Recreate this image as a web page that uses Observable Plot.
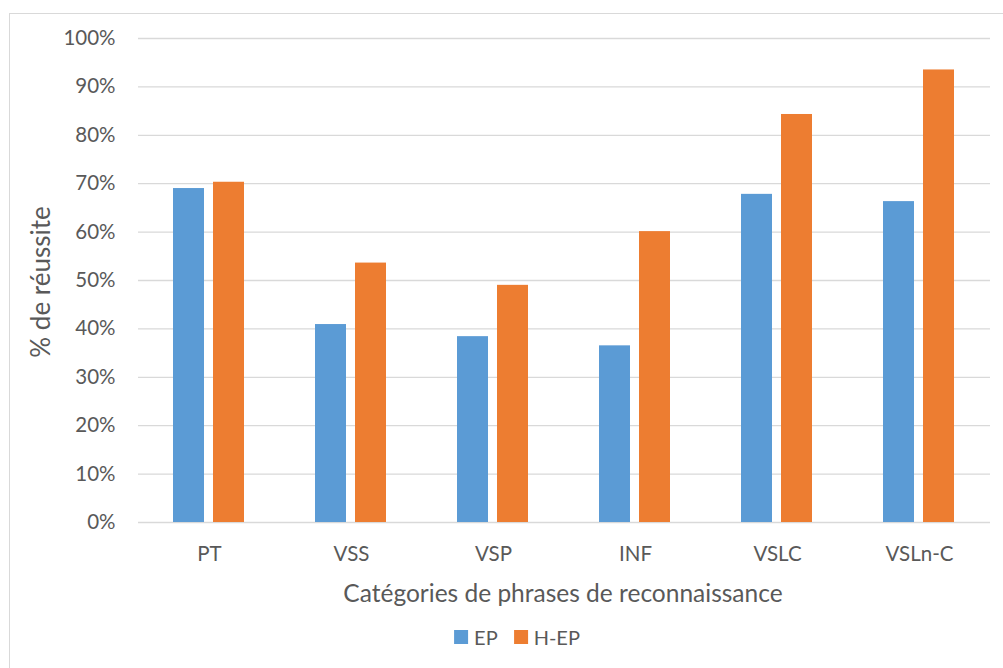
<!DOCTYPE html>
<html>
<head>
<meta charset="utf-8">
<script src="https://cdn.jsdelivr.net/npm/d3@7"></script>
<script src="https://cdn.jsdelivr.net/npm/@observablehq/plot@0.6"></script>
<style>
  html, body { margin: 0; padding: 0; background: #fff; }
  #wrap { position: relative; width: 1003px; height: 668px; overflow: hidden; background: #fff; font-family: Lato, "Open Sans", sans-serif; color: #595959; }
  #frame { position: absolute; left: 9px; top: 13px; width: 1200px; height: 900px; border: 1.5px solid #d9d9d9; box-sizing: border-box; }
  #chart { position: absolute; left: 0; top: 0; }
  #ylabel { position: absolute; left: 40px; top: 282px; transform: translate(-50%, -50%) rotate(-90deg); font-size: 26px; white-space: nowrap; line-height: 1; }
  #xtitle { position: absolute; left: 563px; top: 593px; transform: translate(-50%, -50%); font-size: 24.5px; white-space: nowrap; line-height: 1; }
  #legend { position: absolute; left: 517px; top: 637px; transform: translate(-50%, -50%); display: flex; align-items: center; font-size: 20px; line-height: 1; white-space: nowrap; }
  .item { display: flex; align-items: center; margin: 0 8px; }
  .sw { width: 14px; height: 14px; margin-right: 6px; }
</style>
</head>
<body>
<div id="wrap">
  <div id="frame"></div>
  <div id="chart"></div>
  <div id="ylabel">% de réussite</div>
  <div id="xtitle">Catégories de phrases de reconnaissance</div>
  <div id="legend"></div>
</div>
<script>
const categories = ["PT", "VSS", "VSP", "INF", "VSLC", "VSLn-C"];
const series = ["EP", "H-EP"];
const epValues = [0.690, 0.409, 0.384, 0.365, 0.678, 0.663];
const hepValues = [0.703, 0.536, 0.490, 0.601, 0.843, 0.935];
const seriesColors = ["#5B9BD5", "#ED7D31"];
const yTicks = [0, 0.1, 0.2, 0.3, 0.4, 0.5, 0.6, 0.7, 0.8, 0.9, 1.0];

const rows = categories.flatMap((c, i) => [
  {cat: c, series: series[0], value: epValues[i]},
  {cat: c, series: series[1], value: hepValues[i]}
]);

const chart = Plot.plot({
  width: 1003,
  height: 610,
  marginLeft: 137,
  marginRight: 13,
  marginTop: 38,
  marginBottom: 88,
  style: {fontFamily: "Lato, 'Open Sans', sans-serif", fontSize: "20.5px", color: "#595959", background: "transparent"},
  fx: {domain: categories, padding: 0, axis: "bottom", tickSize: 0, tickPadding: 24, label: null},
  x: {domain: series, axis: null, paddingInner: 0.2195, paddingOuter: 0.8436},
  y: {domain: [0, 1], ticks: yTicks, tickFormat: d3.format(".0%"), tickSize: 0, tickPadding: 23, label: null},
  color: {domain: series, range: seriesColors},
  marks: [
    Plot.ruleY(yTicks, {stroke: "#d9d9d9", strokeWidth: 1.3}),
    Plot.barY(rows, {fx: "cat", x: "series", y: "value", fill: "series"})
  ]
});
document.getElementById("chart").appendChild(chart);

const legend = document.getElementById("legend");
series.forEach((s, i) => {
  const item = document.createElement("div");
  item.className = "item";
  const sw = document.createElement("div");
  sw.className = "sw";
  sw.style.background = seriesColors[i];
  const t = document.createElement("span");
  t.textContent = s;
  item.appendChild(sw);
  item.appendChild(t);
  legend.appendChild(item);
});
</script>
</body>
</html>
